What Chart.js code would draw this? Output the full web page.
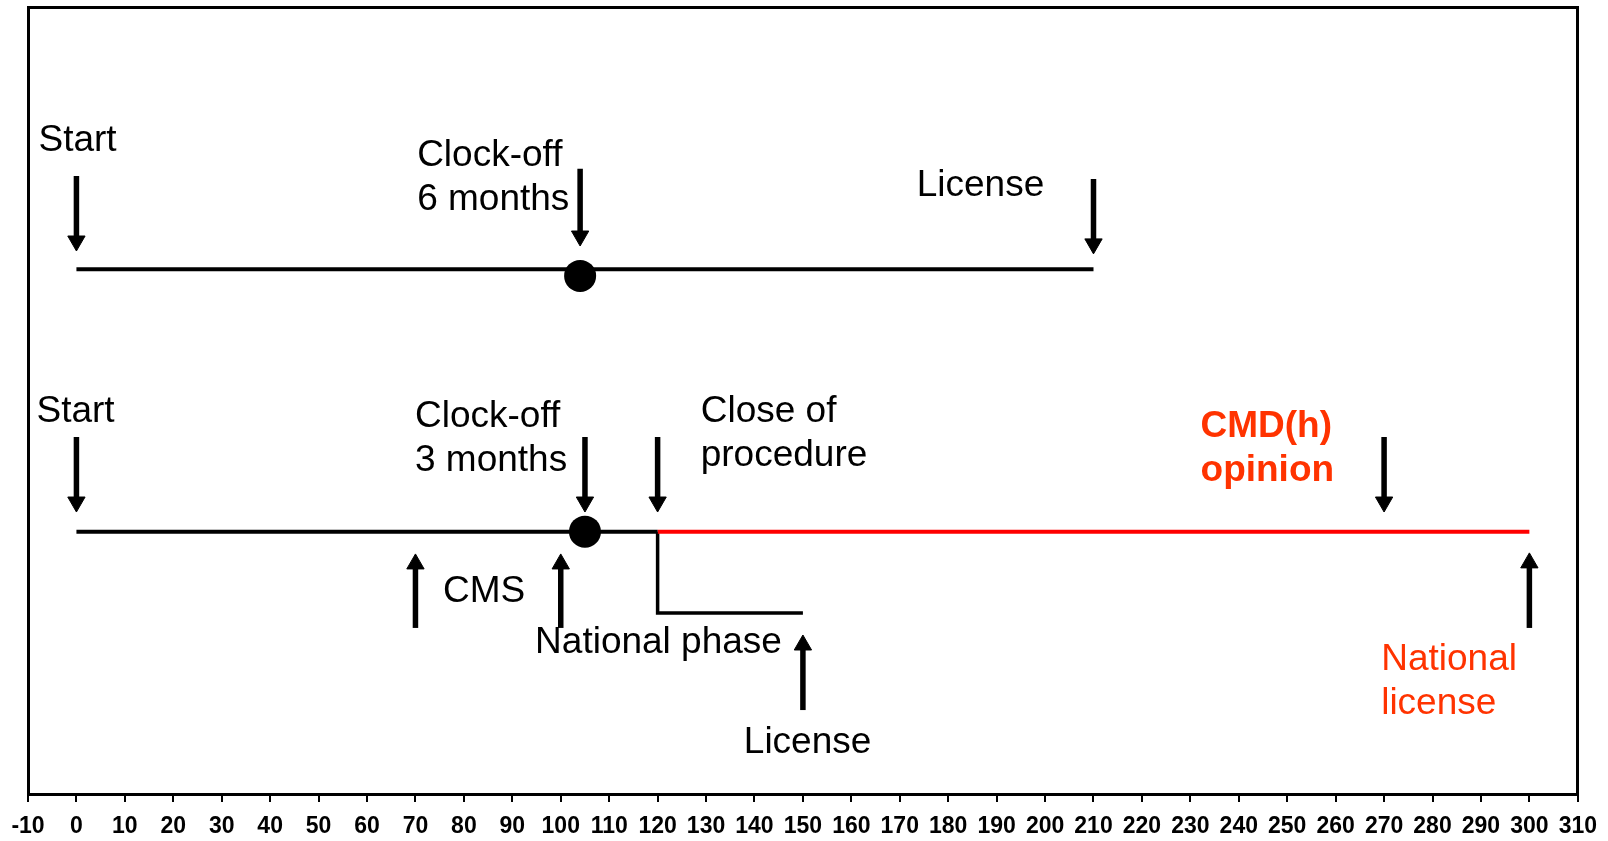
<!DOCTYPE html>
<html>
<head>
<meta charset="utf-8">
<script src="https://cdn.jsdelivr.net/npm/chart.js@4.4.1/dist/chart.umd.min.js"></script>
<style>
  html, body { margin: 0; padding: 0; background: #ffffff; }
  #wrap { width: 1608px; height: 841px; }
</style>
</head>
<body>
<div id="wrap"><canvas id="c" width="1608" height="841"></canvas></div>
<script>
// ---- axis ----
const xMin = -10;
const xMax = 310;
const xStep = 10;

// ---- timelines (x in days, y = row level) ----
const topTimelineX = [0, 210];
const topTimelineY = [2, 2];
const mainBlackX = [0, 120];
const mainBlackY = [1, 1];
const cmdRedX = [120, 300];
const cmdRedY = [1, 1];
const nationalPhaseX = [120, 120, 150];
const nationalPhaseY = [1, 0.69, 0.69];
const clockOffX = [104, 105];
const clockOffY = [1.975, 1.0];

// ---- arrows: x position, tail level, head level ----
const arrowX    = [0,     104,   210,   0,     105,   120,   270,   70,    100,   150,   300];
const arrowTail = [2.356, 2.383, 2.344, 1.361, 1.361, 1.361, 1.361, 0.633, 0.633, 0.320, 0.633];
const arrowHead = [2.108, 2.127, 2.097, 1.113, 1.113, 1.113, 1.113, 0.877, 0.877, 0.568, 0.881];

// ---- annotation texts ----
const labelText = [
  ['Start'], ['Clock-off', '6 months'], ['License'],
  ['Start'], ['Clock-off', '3 months'], ['Close of', 'procedure'],
  ['CMD(h)', 'opinion'], ['CMS'], ['National phase'], ['License'],
  ['National', 'license']
];
const labelX = [-7.84, 70.35, 173.5, -8.25, 69.9, 128.9, 232.1, 75.7, 94.7, 137.8, 269.4];
const labelY = [2.451, 2.394, 2.280, 1.418, 1.399, 1.418, 1.361, 0.732, 0.5375, 0.156, 0.4727];
const labelKind = ['n','n','n','n','n','n','redBold','n','n','n','red'];

const FONT = "'Liberation Sans', Arial, Helvetica, sans-serif";

function lineDS(xs, ys, color, width, order) {
  return {
    type: 'scatter', showLine: true,
    data: xs.map((x, i) => ({ x: x, y: ys[i] })),
    borderColor: color, backgroundColor: color, borderWidth: width,
    pointRadius: 0, pointHoverRadius: 0, order: order,
    borderCapStyle: 'butt', borderJoinStyle: 'miter', clip: false
  };
}

const datasets = [];
datasets.push(lineDS(topTimelineX, topTimelineY, '#000000', 4, 3));
datasets.push(lineDS(mainBlackX, mainBlackY, '#000000', 4, 3));
datasets.push(lineDS(cmdRedX, cmdRedY, '#ff0000', 4, 3));
datasets.push(lineDS(nationalPhaseX, nationalPhaseY, '#000000', 3.5, 3));

arrowX.forEach((x, i) => {
  const down = arrowHead[i] < arrowTail[i];
  datasets.push({
    type: 'scatter', showLine: true,
    data: [{ x: x, y: arrowTail[i] }, { x: x, y: arrowHead[i] }],
    borderColor: '#000000', backgroundColor: '#000000', borderWidth: 5.5,
    pointStyle: 'triangle',
    pointRadius: [0, 10], pointHoverRadius: [0, 10],
    pointRotation: [0, down ? 180 : 0],
    pointBorderWidth: 1, pointBorderColor: '#000000', pointBackgroundColor: '#000000',
    order: 2, borderCapStyle: 'butt', clip: false
  });
});

datasets.push({
  type: 'scatter',
  data: clockOffX.map((x, i) => ({ x: x, y: clockOffY[i] })),
  pointRadius: 16, pointHoverRadius: 16,
  pointBackgroundColor: '#000000', pointBorderColor: '#000000', pointBorderWidth: 0,
  order: 0, clip: false
});

const textPlugin = {
  id: 'annotTexts',
  afterDatasetsDraw(chart) {
    const ctx = chart.ctx;
    const xs = chart.scales.x, ys = chart.scales.y;
    ctx.save();
    ctx.textAlign = 'left';
    ctx.textBaseline = 'alphabetic';
    labelText.forEach((lines, i) => {
      const kind = labelKind[i];
      ctx.fillStyle = kind === 'n' ? '#000000' : '#ff3300';
      ctx.font = (kind === 'redBold' ? 'bold ' : '') + '37px ' + FONT;
      const px = xs.getPixelForValue(labelX[i]);
      const py = ys.getPixelForValue(labelY[i]);
      lines.forEach((t, k) => ctx.fillText(t, px, py + k * 44));
    });
    ctx.restore();
  }
};

new Chart(document.getElementById('c'), {
  type: 'scatter',
  data: { datasets: datasets },
  options: {
    responsive: false, animation: false, devicePixelRatio: 1,
    layout: { autoPadding: false, padding: { left: 28, right: 28, top: 7, bottom: 0 } },
    plugins: { legend: { display: false }, tooltip: { enabled: false } },
    events: [],
    scales: {
      x: {
        type: 'linear', position: 'bottom', min: xMin, max: xMax,
        afterBuildTicks(scale) {
          const t = [];
          for (let v = xMin; v <= xMax; v += xStep) t.push({ value: v });
          scale.ticks = t;
        },
        afterFit(scale) { scale.height = 47; },
        ticks: { autoSkip: false, maxRotation: 0, color: '#000000', padding: 11,
                 font: { family: FONT, size: 23, weight: 'bold' } },
        grid: { display: true, drawOnChartArea: false, drawTicks: true, tickLength: 8,
                color: '#000000', lineWidth: 2 },
        border: { display: true, color: '#000000', width: 3 }
      },
      xTop: {
        type: 'linear', position: 'top', min: xMin, max: xMax,
        afterFit(scale) { scale.height = 0; },
        ticks: { display: false }, grid: { display: false, drawTicks: false },
        border: { display: true, color: '#000000', width: 3 }
      },
      y: {
        type: 'linear', position: 'left', min: 0, max: 3,
        afterFit(scale) { scale.width = 0; },
        ticks: { display: false }, grid: { display: false, drawTicks: false },
        border: { display: true, color: '#000000', width: 3 }
      },
      yRight: {
        type: 'linear', position: 'right', min: 0, max: 3,
        afterFit(scale) { scale.width = 0; },
        ticks: { display: false }, grid: { display: false, drawTicks: false },
        border: { display: true, color: '#000000', width: 3 }
      }
    }
  },
  plugins: [textPlugin]
});
</script>
</body>
</html>
